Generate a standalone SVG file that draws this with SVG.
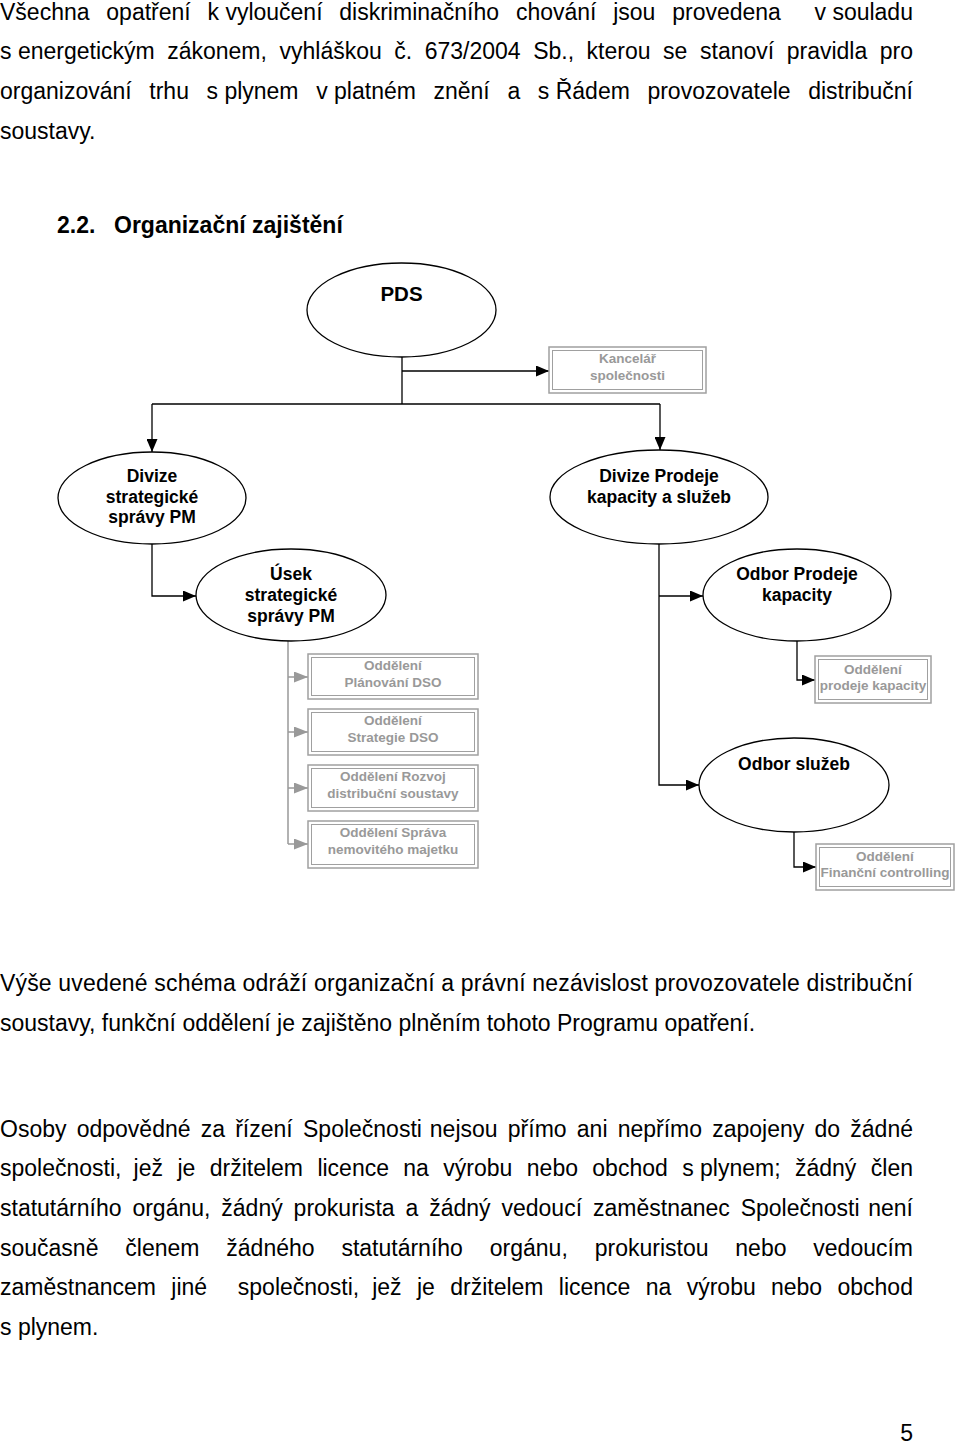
<svg xmlns="http://www.w3.org/2000/svg" width="960" height="1445" viewBox="0 0 960 1445">
<style>
.body{font-family:"Liberation Sans",Arial,sans-serif;font-size:23px;fill:#000}
.head{font-family:"Liberation Sans",Arial,sans-serif;font-size:23px;font-weight:bold;fill:#000}
.el{fill:#fff;stroke:#000;stroke-width:1.3}
.nt{font-family:"Liberation Sans",Arial,sans-serif;font-size:17.5px;font-weight:bold;fill:#000;text-anchor:middle}
.gt{font-family:"Liberation Sans",Arial,sans-serif;font-size:13.5px;font-weight:bold;fill:#999;text-anchor:middle}
.bo{fill:#fff;stroke:#a0a0a0;stroke-width:1.5}
.bi{fill:none;stroke:#a0a0a0;stroke-width:1}
.cn{fill:none;stroke:#000;stroke-width:1.3}
.cg{fill:none;stroke:#999;stroke-width:1.5}
</style>
<defs>
<marker id="ab" markerUnits="userSpaceOnUse" markerWidth="13" markerHeight="11" refX="13" refY="5.5" orient="auto"><path d="M0,0 L13,5.5 L0,11 z" fill="#000"/></marker>
<marker id="ag" markerUnits="userSpaceOnUse" markerWidth="14" markerHeight="11" refX="14" refY="5.5" orient="auto"><path d="M0,0 L14,5.5 L0,11 z" fill="#999"/></marker>
</defs>
<rect width="960" height="1445" fill="#fff"/>
<g id="text">
<text class="body" y="19.5"><tspan x="0">Všechna</tspan><tspan x="106.3">opatření</tspan><tspan x="207.5">k vyloučení</tspan><tspan x="339.3">diskriminačního</tspan><tspan x="515.9">chování</tspan><tspan x="613.2">jsou</tspan><tspan x="672.2">provedena</tspan><tspan x="814.5">v souladu</tspan></text>
<text class="body" y="59.2"><tspan x="0">s energetickým</tspan><tspan x="167.2">zákonem,</tspan><tspan x="279.5">vyhláškou</tspan><tspan x="394.3">č.</tspan><tspan x="424.7">673/2004</tspan><tspan x="533.2">Sb.,</tspan><tspan x="586.6">kterou</tspan><tspan x="663.1">se</tspan><tspan x="700">stanoví</tspan><tspan x="786.7">pravidla</tspan><tspan x="879.7">pro</tspan></text>
<text class="body" y="98.9"><tspan x="0">organizování</tspan><tspan x="149.3">trhu</tspan><tspan x="206.5">s plynem</tspan><tspan x="316.2">v platném</tspan><tspan x="433.5">znění</tspan><tspan x="507.4">a</tspan><tspan x="537.8">s Řádem</tspan><tspan x="647.4">provozovatele</tspan><tspan x="808.2">distribuční</tspan></text>
<text class="body" x="0" y="138.6">soustavy.</text>
<text class="head" y="233"><tspan x="57">2.2.</tspan><tspan x="114">Organizační zajištění</tspan></text>
<text class="body" x="0" y="991" textLength="913" lengthAdjust="spacing">Výše uvedené schéma odráží organizační a právní nezávislost provozovatele distribuční</text>
<text class="body" x="0" y="1031">soustavy, funkční oddělení je zajištěno plněním tohoto Programu opatření.</text>
<text class="body" y="1136.5"><tspan x="0">Osoby</tspan><tspan x="76.7">odpovědné</tspan><tspan x="200.7">za</tspan><tspan x="235.2">řízení</tspan><tspan x="303">Společnosti</tspan><tspan x="429.8">nejsou</tspan><tspan x="507.8">přímo</tspan><tspan x="576.8">ani</tspan><tspan x="617.7">nepřímo</tspan><tspan x="712.2">zapojeny</tspan><tspan x="814.5">do</tspan><tspan x="850.3">žádné</tspan></text>
<text class="body" y="1176.2"><tspan x="0">společnosti,</tspan><tspan x="133.6">jež</tspan><tspan x="177.4">je</tspan><tspan x="209.7">držitelem</tspan><tspan x="317.4">licence</tspan><tspan x="403.3">na</tspan><tspan x="443.3">výrobu</tspan><tspan x="526.8">nebo</tspan><tspan x="592.3">obchod</tspan><tspan x="682.2">s plynem;</tspan><tspan x="795">žádný</tspan><tspan x="870.8">člen</tspan></text>
<text class="body" y="1215.9"><tspan x="0">statutárního</tspan><tspan x="132.4">orgánu,</tspan><tspan x="221.3">žádný</tspan><tspan x="293.6">prokurista</tspan><tspan x="405.5">a</tspan><tspan x="429.2">žádný</tspan><tspan x="501.5">vedoucí</tspan><tspan x="593">zaměstnanec</tspan><tspan x="740.7">Společnosti</tspan><tspan x="868.2">není</tspan></text>
<text class="body" y="1255.6"><tspan x="0">současně</tspan><tspan x="125.3">členem</tspan><tspan x="226.3">žádného</tspan><tspan x="341.4">statutárního</tspan><tspan x="489.8">orgánu,</tspan><tspan x="594.7">prokuristou</tspan><tspan x="735.3">nebo</tspan><tspan x="813.3">vedoucím</tspan></text>
<text class="body" y="1295.3"><tspan x="0">zaměstnancem</tspan><tspan x="171.3">jiné</tspan><tspan x="237.8">společnosti,</tspan><tspan x="372.2">jež</tspan><tspan x="417">je</tspan><tspan x="450.2">držitelem</tspan><tspan x="558.8">licence</tspan><tspan x="645.7">na</tspan><tspan x="686.7">výrobu</tspan><tspan x="771">nebo</tspan><tspan x="837.5">obchod</tspan></text>
<text class="body" x="0" y="1335">s plynem.</text>
<text class="body" x="913" y="1441" text-anchor="end">5</text>
</g>
<g id="connectors">
<path class="cn" d="M402,357 V404"/>
<path class="cn" d="M402,371 H549" marker-end="url(#ab)"/>
<path class="cn" d="M152,404 H660"/>
<path class="cn" d="M152,404 V452" marker-end="url(#ab)"/>
<path class="cn" d="M660,404 V450" marker-end="url(#ab)"/>
<path class="cn" d="M152,544 V596 H196" marker-end="url(#ab)"/>
<path class="cn" d="M659,544 V785 H699" marker-end="url(#ab)"/>
<path class="cn" d="M659,596 H703" marker-end="url(#ab)"/>
<path class="cn" d="M797,641 V680 H815" marker-end="url(#ab)"/>
<path class="cn" d="M794,832 V867 H816" marker-end="url(#ab)"/>
<path class="cg" d="M288,641 V844"/>
<path class="cg" d="M288,677 H308" marker-end="url(#ag)"/>
<path class="cg" d="M288,732 H308" marker-end="url(#ag)"/>
<path class="cg" d="M288,788 H308" marker-end="url(#ag)"/>
<path class="cg" d="M288,844 H308" marker-end="url(#ag)"/>
</g>
<g id="pds">
<ellipse class="el" cx="401.5" cy="310" rx="94.5" ry="47"/>
<text class="nt" x="401.5" y="301" style="font-size:20.5px">PDS</text>
</g>
<g id="kancelar">
<rect class="bo" x="549" y="347" width="157" height="46"/>
<rect class="bi" x="552.5" y="350.5" width="150" height="39"/>
<text class="gt" x="627.5" y="363">Kancelář</text>
<text class="gt" x="627.5" y="379.5">společnosti</text>
</g>
<g id="divize-strategicke">
<ellipse class="el" cx="152" cy="498" rx="94" ry="46"/>
<text class="nt" x="152" y="482">Divize</text>
<text class="nt" x="152" y="502.5">strategické</text>
<text class="nt" x="152" y="523">správy PM</text>
</g>
<g id="divize-prodeje">
<ellipse class="el" cx="659" cy="497" rx="109" ry="47"/>
<text class="nt" x="659" y="482">Divize Prodeje</text>
<text class="nt" x="659" y="502.5">kapacity a služeb</text>
</g>
<g id="usek">
<ellipse class="el" cx="291" cy="595" rx="95" ry="46"/>
<text class="nt" x="291" y="580">Úsek</text>
<text class="nt" x="291" y="600.5">strategické</text>
<text class="nt" x="291" y="621.5">správy PM</text>
</g>
<g id="odbor-prodeje">
<ellipse class="el" cx="797" cy="595" rx="94" ry="46"/>
<text class="nt" x="797" y="580">Odbor Prodeje</text>
<text class="nt" x="797" y="600.5">kapacity</text>
</g>
<g id="odbor-sluzeb">
<ellipse class="el" cx="794" cy="785" rx="95" ry="47"/>
<text class="nt" x="794" y="770">Odbor služeb</text>
</g>
<g id="planovani">
<rect class="bo" x="308" y="654" width="170" height="45"/>
<rect class="bi" x="311.5" y="657.5" width="163" height="38"/>
<text class="gt" x="393" y="669.5">Oddělení</text>
<text class="gt" x="393" y="687">Plánování DSO</text>
</g>
<g id="strategie">
<rect class="bo" x="308" y="709" width="170" height="46"/>
<rect class="bi" x="311.5" y="712.5" width="163" height="39"/>
<text class="gt" x="393" y="724.5">Oddělení</text>
<text class="gt" x="393" y="742">Strategie DSO</text>
</g>
<g id="rozvoj">
<rect class="bo" x="308" y="765" width="170" height="46"/>
<rect class="bi" x="311.5" y="768.5" width="163" height="39"/>
<text class="gt" x="393" y="780.5">Oddělení Rozvoj</text>
<text class="gt" x="393" y="798">distribuční soustavy</text>
</g>
<g id="sprava">
<rect class="bo" x="308" y="821" width="170" height="47"/>
<rect class="bi" x="311.5" y="824.5" width="163" height="40"/>
<text class="gt" x="393" y="836.5">Oddělení Správa</text>
<text class="gt" x="393" y="854">nemovitého majetku</text>
</g>
<g id="prodeje-kapacity">
<rect class="bo" x="815" y="656" width="116" height="47"/>
<rect class="bi" x="818.5" y="659.5" width="109" height="40"/>
<text class="gt" x="873" y="673.5">Oddělení</text>
<text class="gt" x="873" y="689.5">prodeje kapacity</text>
</g>
<g id="financni">
<rect class="bo" x="816" y="844" width="138" height="46"/>
<rect class="bi" x="819.5" y="847.5" width="131" height="39"/>
<text class="gt" x="885" y="861">Oddělení</text>
<text class="gt" x="885" y="876.5">Finanční controlling</text>
</g>
</svg>
